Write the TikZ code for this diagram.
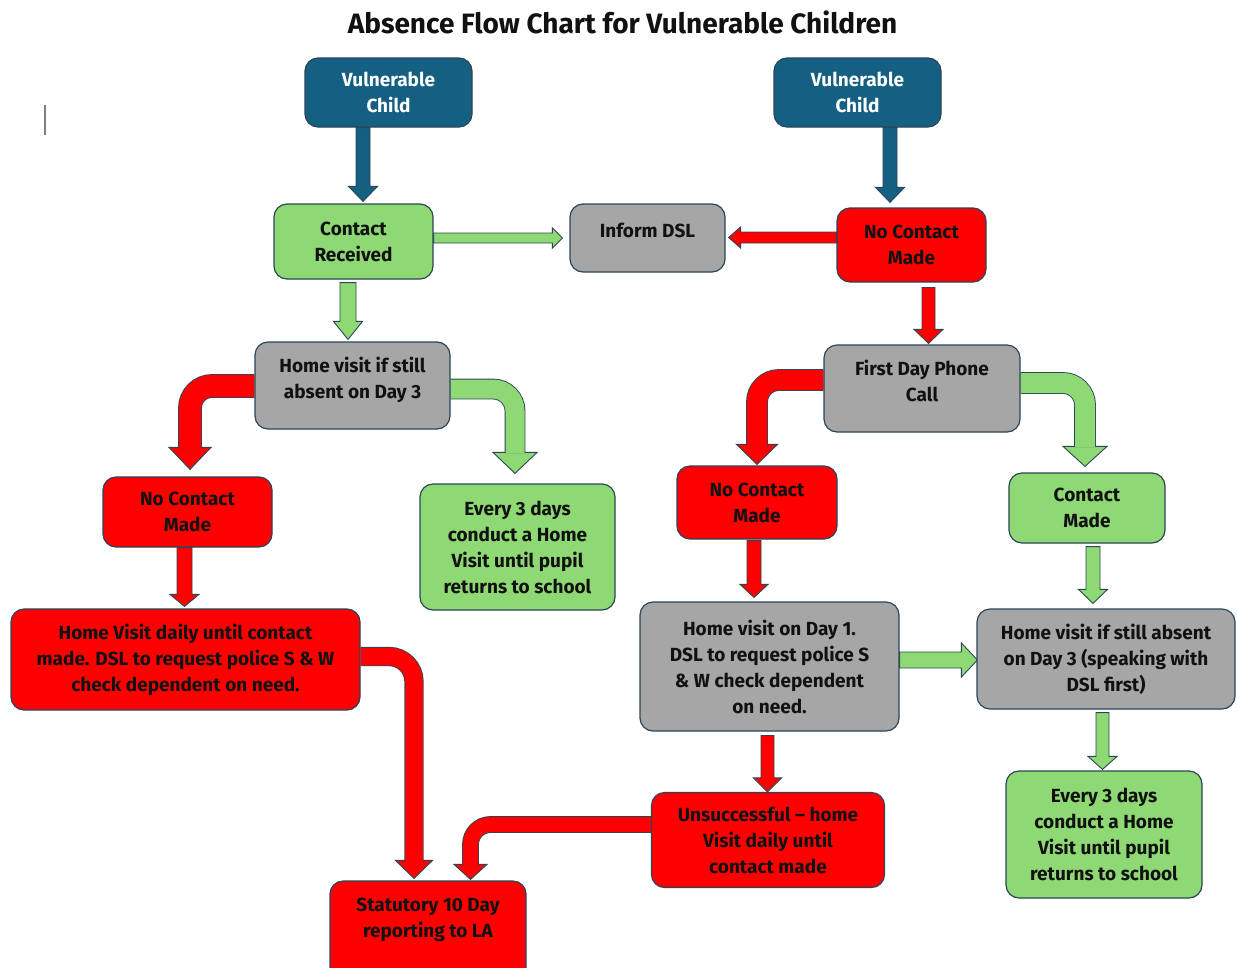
\documentclass[tikz,border=0pt]{standalone}
\usepackage{fontspec}
\setmainfont{Fira Sans}
\usetikzlibrary{calc}
\definecolor{cblue}{HTML}{156082}
\definecolor{cgreen}{HTML}{8ED973}
\definecolor{cgray}{HTML}{A6A6A6}
\definecolor{cred}{HTML}{FF0000}
\definecolor{edge}{HTML}{2B4657}
\definecolor{ink}{HTML}{111111}
\pgfdeclarelayer{bg}
\pgfdeclarelayer{arr}
\pgfsetlayers{bg,arr,main}
\newcommand\boxfont{\bfseries\fontsize{19}{26}\selectfont}
\newcommand\titlefont{\bfseries\fontsize{28}{32}\selectfont}
\tikzset{
  box/.style={draw=edge, line width=1.2pt, rounded corners=13pt, align=center,
    font=\boxfont, text=ink, inner sep=0pt},
  shaft/.style={draw=edge, line width=0.9pt, double distance=#1},
  head/.style={draw=edge, line width=0.9pt, fill=#1, line join=miter},
}
% straight block arrows: colour, start, tip, shaft half width, head half width, head length
\newcommand\barrD[6]{\filldraw[head=#1] ($(#2)+(-#4,0)$) -- ($(#3)+(-#4,-#6)$) -- ($(#3)+(-#5,-#6)$) -- (#3) -- ($(#3)+(#5,-#6)$) -- ($(#3)+(#4,-#6)$) -- ($(#2)+(#4,0)$) -- cycle;}
\newcommand\barrR[6]{\filldraw[head=#1] ($(#2)+(0,-#4)$) -- ($(#3)+(-#6,-#4)$) -- ($(#3)+(-#6,-#5)$) -- (#3) -- ($(#3)+(-#6,#5)$) -- ($(#3)+(-#6,#4)$) -- ($(#2)+(0,#4)$) -- cycle;}
\newcommand\barrL[6]{\filldraw[head=#1] ($(#2)+(0,-#4)$) -- ($(#3)+(#6,-#4)$) -- ($(#3)+(#6,-#5)$) -- (#3) -- ($(#3)+(#6,#5)$) -- ($(#3)+(#6,#4)$) -- ($(#2)+(0,#4)$) -- cycle;}
% bent block arrow: colour, start, tip, shaft width, head half width, head length, radius
\newcommand\barrB[7]{%
  \filldraw[head=#1] ($(#3)+(-#5,-#6)$) -- ($(#3)+(#5,-#6)$) -- (#3) -- cycle;
  \draw[shaft=#4pt, double=#1, rounded corners=#7pt] (#2) -| ($(#3)+(0,-#6+0.7)$);}
\begin{document}
\begin{tikzpicture}[x=1pt,y=-1pt]
\useasboundingbox (0,0) rectangle (1237,967);
\begin{pgfonlayer}{bg}
\fill[white] (0,0) rectangle (1237,967);
\end{pgfonlayer}
\clip (0,0) rectangle (1237,967);

\node[font=\titlefont, text=ink] (title) at (622.5,22) {Absence Flow Chart for Vulnerable Children};
\draw[gray, line width=1.5pt] (45,105) -- (45,135);

\node[box,fill=cblue,text=white,minimum width=167pt,minimum height=69pt] (vc1) at (388.5,92.5) {Vulnerable\\Child};
\node[box,fill=cblue,text=white,minimum width=167pt,minimum height=69pt] (vc2) at (857.5,92.5) {Vulnerable\\Child};
\node[box,fill=cgreen,minimum width=159pt,minimum height=75pt] (cr) at (353.5,241.5) {Contact\\Received};
\node[box,fill=cgray,minimum width=155pt,minimum height=68pt] (idsl) at (647.5,238) {Inform DSL\\[-10pt]\mbox{}};
\node[box,fill=cred,minimum width=149pt,minimum height=74pt] (ncm1) at (911.5,245) {No Contact\\Made};
\node[box,fill=cgray,minimum width=195pt,minimum height=87pt] (hv3) at (352.5,385.5) {Home visit if still\\absent on Day 3\\[-10pt]\mbox{}};
\node[box,fill=cgray,minimum width=196pt,minimum height=87pt] (fdp) at (922,388.5) {First Day Phone\\Call\\[-10pt]\mbox{}};
\node[box,fill=cred,minimum width=169pt,minimum height=70pt] (ncm2) at (187.5,512) {No Contact\\Made};
\node[box,fill=cgreen,minimum width=195pt,minimum height=126pt] (e3a) at (517.5,547) {Every 3 days\\conduct a Home\\Visit until pupil\\returns to school};
\node[box,fill=cred,minimum width=160pt,minimum height=73pt] (ncm3) at (757,502.5) {No Contact\\Made};
\node[box,fill=cgreen,minimum width=156pt,minimum height=70pt] (cm) at (1087,508) {Contact\\Made};
\node[box,fill=cred,minimum width=349pt,minimum height=101pt] (hvd) at (185.5,659.5) {Home Visit daily until contact\\made. DSL to request police S \& W\\check dependent on need.};
\node[box,fill=cgray,minimum width=259pt,minimum height=129pt] (hv1) at (769.5,666.5) {Home visit on Day 1.\\DSL to request police S\\\& W check dependent\\on need.};
\node[box,fill=cgray,minimum width=258pt,minimum height=100pt] (hv3b) at (1106,659) {Home visit if still absent\\on Day 3 (speaking with\\DSL first)};
\node[box,fill=cred,minimum width=233pt,minimum height=95pt] (uns) at (768,840) {Unsuccessful – home\\Visit daily until\\contact made};
\node[box,fill=cgreen,minimum width=196pt,minimum height=127pt] (e3b) at (1104,834.5) {Every 3 days\\conduct a Home\\Visit until pupil\\returns to school};
\node[box,fill=cred,minimum width=196pt,minimum height=100pt] (stat) at (428,931) {Statutory 10 Day\\reporting to LA\\\mbox{}};

\coordinate (s1) at ($(vc1.south)+(-25.5,0)$);  \coordinate (t1) at ($(cr.north)+(9.5,-2)$);
\coordinate (s2) at ($(vc2.south)+(32.5,0)$);   \coordinate (t2) at ($(ncm1.north)+(-21.5,-5)$);
\coordinate (s3) at ($(cr.east)+(0,-3.5)$);     \coordinate (t3) at ($(idsl.west)+(-7,0)$);
\coordinate (s4) at ($(ncm1.west)+(0,-7.5)$);   \coordinate (t4) at ($(idsl.east)+(3,-0.5)$);
\coordinate (s5) at ($(cr.south)+(-5.5,3)$);    \coordinate (t5) at ($(hv3.north)+(-4.5,-2)$);
\coordinate (s6) at ($(ncm1.south)+(17,5)$);    \coordinate (t6) at ($(fdp.north)+(6.5,-1)$);
\coordinate (s7) at ($(hv3.west)+(0,0.5)$);     \coordinate (t7) at ($(ncm2.north)+(2.5,-7)$);
\coordinate (s8) at ($(hv3.east)+(0,3.5)$);     \coordinate (t8) at ($(e3a.north)+(-2.5,-10)$);
\coordinate (s9) at ($(fdp.west)+(0,-8.5)$);    \coordinate (t9) at ($(ncm3.north)+(0,-1)$);
\coordinate (s10) at ($(fdp.east)+(0,-5.5)$);   \coordinate (t10) at ($(cm.north)+(-2,-6)$);
\coordinate (s11) at ($(ncm2.south)+(-3,0)$);   \coordinate (t11) at ($(hvd.north)+(-1,-2)$);
\coordinate (s12) at ($(ncm3.south)+(-3,1)$);   \coordinate (t12) at ($(hv1.north)+(-15.5,-4)$);
\coordinate (s13) at ($(cm.south)+(6,3)$);      \coordinate (t13) at ($(hv3b.north)+(-13,-5)$);
\coordinate (s14) at ($(hv1.east)+(0,-6.5)$);   \coordinate (t14) at ($(hv3b.west)+(1,1)$);
\coordinate (s15) at ($(hv3b.south)+(-3.5,3)$); \coordinate (t15) at ($(e3b.north)+(-1.5,-1)$);
\coordinate (s16) at ($(hv1.south)+(-2,4)$);    \coordinate (t16) at ($(uns.north)+(-0.5,0)$);
\coordinate (s17) at ($(uns.west)+(0,-15.5)$);  \coordinate (t17) at ($(stat.north)+(42.5,-1)$);
\coordinate (s18) at ($(hvd.east)+(0,-3)$);     \coordinate (t18) at ($(stat.north)+(-14,-2)$);

\begin{pgfonlayer}{arr}
\barrD{cblue}{s1}{t1}{7}{14.5}{15}
\barrD{cblue}{s2}{t2}{7}{14.5}{15}
\barrR{cgreen}{s3}{t3}{5}{10}{10}
\barrL{cred}{s4}{t4}{5.5}{10.5}{12}
\barrD{cgreen}{s5}{t5}{8}{14.5}{18}
\barrD{cred}{s6}{t6}{6.5}{14.5}{14}
\barrB{cred}{s7}{t7}{22}{21}{22}{22}
\barrB{cgreen}{s8}{t8}{19}{22}{21}{22}
\barrB{cred}{s9}{t9}{20}{20.5}{20}{22}
\barrB{cgreen}{s10}{t10}{20}{22}{20}{22}
\barrD{cred}{s11}{t11}{7.5}{14.5}{12}
\barrD{cred}{s12}{t12}{7}{14}{13}
\barrD{cgreen}{s13}{t13}{7}{14.5}{14}
\barrR{cgreen}{s14}{t14}{8}{17}{16}
\barrD{cgreen}{s15}{t15}{6.5}{14.5}{13}
\barrD{cred}{s16}{t16}{6.5}{14}{14}
\barrB{cred}{s17}{t17}{15}{16.5}{15}{20}
\barrB{cred}{s18}{t18}{17.5}{18.5}{18}{25}
\end{pgfonlayer}
\end{tikzpicture}
\end{document}
